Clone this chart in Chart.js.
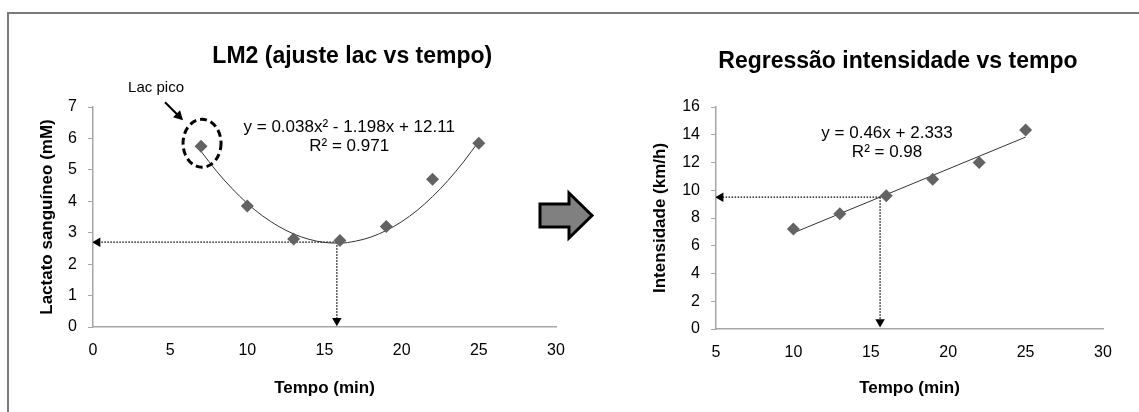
<!DOCTYPE html>
<html><head><meta charset="utf-8">
<script src="https://cdn.jsdelivr.net/npm/chart.js@4.4.1/dist/chart.umd.min.js"></script>
<style>
html,body{margin:0;padding:0;background:#fff;width:1139px;height:412px;overflow:hidden;font-family:"Liberation Sans",Arial,sans-serif}
#frame{position:absolute;left:7px;top:12px;width:1140px;height:420px;border-left:2px solid #7a7a7a;border-top:2px solid #7a7a7a;box-sizing:border-box}
#c1wrap{position:absolute;left:0;top:0;width:580px;height:412px}
#c2wrap{position:absolute;left:600px;top:0;width:539px;height:412px}
svg{position:absolute;left:0;top:0}
</style></head><body>
<div id="frame"></div>
<svg width="1139" height="412"><polygon points="540,204 569,204 569,193 592,215.5 569,238 569,227 540,227" fill="#808080" stroke="#000" stroke-width="3" stroke-linejoin="miter"/></svg>
<div id="c1wrap"><canvas id="c1"></canvas></div>
<div id="c2wrap"><canvas id="c2"></canvas></div>
<script>
// ---- data ----
const lacTempo = [7, 10, 13, 16, 19, 22, 25];
const lacValues = [5.75, 3.85, 2.8, 2.75, 3.2, 4.7, 5.85];
const lacFitTempo = [7, 8, 9, 10, 11, 12, 13, 14, 15, 16, 17, 18, 19, 20, 21, 22, 23, 24, 25];
const lacFitValues = [5.59, 4.96, 4.41, 3.93, 3.53, 3.21, 2.96, 2.79, 2.69, 2.67, 2.73, 2.86, 3.07, 3.35, 3.71, 4.15, 4.66, 5.25, 5.91];
const lacLimiarTempo = [15.8];
const lacLimiarValue = [2.7];
const intTempo = [10, 13, 16, 19, 22, 25];
const intValues = [7.2, 8.3, 9.6, 10.8, 12.0, 14.35];
const intFitTempo = [10, 25];
const intFitValues = [6.93, 13.83];
const intLimiarTempo = [15.6];
const intLimiarValue = [9.5];
const lacEquation = ["y = 0.038x\u00b2 - 1.198x + 12.11", "R\u00b2 = 0.971"];
const intEquation = ["y = 0.46x + 2.333", "R\u00b2 = 0.98"];
const titles = ["LM2 (ajuste lac vs tempo)", "Regress\u00e3o intensidade vs tempo"];

const FONT = "'Liberation Sans', Arial, sans-serif";
Chart.defaults.font.family = FONT;
Chart.defaults.color = '#000';

function pts(xs, ys) { return xs.map((x, i) => ({x: x, y: ys[i]})); }

const annot = {
  id: 'annot',
  afterDatasetsDraw(chart, args, opts) {
    const ctx = chart.ctx, xs = chart.scales.x, ys = chart.scales.y;
    ctx.save();
    ctx.fillStyle = '#000';
    ctx.textAlign = 'center';
    ctx.textBaseline = 'middle';
    // chart title
    ctx.font = 'bold 23px ' + FONT;
    ctx.fillText(opts.title, xs.getPixelForValue(opts.titleX), opts.titleY);
    // trendline equation
    ctx.font = '17px ' + FONT;
    const ex = xs.getPixelForValue(opts.eqAt[0]), ey = ys.getPixelForValue(opts.eqAt[1]);
    opts.eq.forEach((t, i) => ctx.fillText(t, ex, ey + i * 19));
    if (opts.peak) {
      const px = xs.getPixelForValue(opts.peak[0]), py = ys.getPixelForValue(opts.peak[1]);
      ctx.strokeStyle = '#000';
      ctx.lineWidth = 3;
      ctx.setLineDash([7, 4]);
      ctx.beginPath();
      ctx.ellipse(px + 1, py - 3, 19, 24, 0, 0, Math.PI * 2);
      ctx.stroke();
      ctx.setLineDash([]);
      ctx.font = '15px ' + FONT;
      ctx.fillText('Lac pico', px - 45, py - 58);
      const x0 = px - 36, y0 = py - 44, x1 = px - 18, y1 = py - 26;
      ctx.lineWidth = 2;
      ctx.beginPath(); ctx.moveTo(x0, y0); ctx.lineTo(x1 - 4, y1 - 4); ctx.stroke();
      ctx.beginPath();
      ctx.moveTo(x1, y1); ctx.lineTo(x1 - 10, y1 - 3); ctx.lineTo(x1 - 3, y1 - 10); ctx.closePath(); ctx.fill();
    }
    ctx.restore();
  }
};

function makeChart(id, cfg) {
  const markerDs = {
    type: 'scatter', data: pts(cfg.xs, cfg.ys), pointStyle: 'rectRot', pointRadius: 6.5,
    backgroundColor: '#636363', borderColor: '#636363', borderWidth: 0, order: 1
  };
  const fitDs = {
    type: 'line', data: pts(cfg.fx, cfg.fy), borderColor: '#333', borderWidth: 1,
    pointRadius: 0, tension: 0.4, cubicInterpolationMode: 'monotone', fill: false, order: 2
  };
  const hDs = {
    type: 'line', data: [{x: cfg.lx, y: cfg.ly}, {x: cfg.xmin + cfg.arrowGapX, y: cfg.ly}],
    borderColor: '#000', borderWidth: 1.3, borderDash: [1.5, 1.5], fill: false,
    pointRadius: [0, 5.5], pointStyle: 'triangle', pointRotation: -90,
    pointBackgroundColor: '#000', pointBorderColor: '#000', pointBorderWidth: 0, order: 3
  };
  const vDs = {
    type: 'line', data: [{x: cfg.lx, y: cfg.ly}, {x: cfg.lx, y: cfg.arrowGapY}],
    borderColor: '#000', borderWidth: 1.3, borderDash: [1.5, 1.5], fill: false,
    pointRadius: [0, 5.5], pointStyle: 'triangle', pointRotation: 180,
    pointBackgroundColor: '#000', pointBorderColor: '#000', pointBorderWidth: 0, order: 3
  };
  return new Chart(document.getElementById(id), {
    type: 'scatter',
    data: { datasets: [markerDs, fitDs, hDs, vDs] },
    options: {
      responsive: true, maintainAspectRatio: false, animation: false,
      layout: { padding: { left: cfg.padL, right: cfg.padR, top: 107, bottom: 0 } },
      plugins: {
        legend: { display: false }, tooltip: { enabled: false }, title: { display: false },
        annot: { eq: cfg.eq, eqAt: cfg.eqAt, peak: cfg.peak, title: cfg.title, titleX: cfg.titleX, titleY: cfg.titleY }
      },
      scales: {
        x: {
          type: 'linear', min: cfg.xmin, max: 30,
          ticks: { stepSize: 5, font: { size: 16 }, color: '#000', padding: 9, maxRotation: 0 },
          grid: { display: false, drawOnChartArea: false, drawTicks: true, tickLength: 5, tickColor: '#a6a6a6' },
          border: { color: '#a6a6a6', width: 1.5 },
          title: { display: true, text: 'Tempo (min)', color: '#000', font: { size: 17, weight: 'bold' }, padding: { top: 0, bottom: 13 } },
          afterFit(s) { s.height = 412 - cfg.bottom; }
        },
        y: {
          type: 'linear', min: 0, max: cfg.ymax,
          ticks: { stepSize: cfg.ystep, font: { size: 16 }, color: '#000', padding: 11 },
          grid: { display: true, drawOnChartArea: false, drawTicks: true, tickLength: 5, tickColor: '#a6a6a6' },
          border: { color: '#a6a6a6', width: 1.5 },
          title: { display: true, text: cfg.ytitle, color: '#000', font: { size: 17, weight: 'bold' }, padding: { top: cfg.ytitlePad, bottom: 0 } },
          afterFit(s) { s.width = cfg.left - cfg.padL; }
        }
      }
    },
    plugins: [annot]
  });
}

makeChart('c1', {
  xs: lacTempo, ys: lacValues, fx: lacFitTempo, fy: lacFitValues,
  lx: lacLimiarTempo[0], ly: lacLimiarValue[0], xmin: 0, arrowGapX: 0.3, arrowGapY: 0.2,
  padL: 30, padR: 24, left: 93, bottom: 327, ymax: 7, ystep: 1,
  title: titles[0], titleX: 16.8, titleY: 57, ytitle: 'Lactato sangu\u00edneo (mM)', ytitlePad: 7,
  eq: lacEquation, eqAt: [16.6, 6.36], peak: [lacTempo[0], lacValues[0]]
});
makeChart('c2', {
  xs: intTempo, ys: intValues, fx: intFitTempo, fy: intFitValues,
  lx: intLimiarTempo[0], ly: intLimiarValue[0], xmin: 5, arrowGapX: 0.3, arrowGapY: 0.5,
  padL: 40, padR: 36, left: 116, bottom: 329, ymax: 16, ystep: 2,
  title: titles[1], titleX: 16.75, titleY: 62, ytitle: 'Intensidade (km/h)', ytitlePad: 10,
  eq: intEquation, eqAt: [16.05, 14.1], peak: null
});
</script>
</body></html>
